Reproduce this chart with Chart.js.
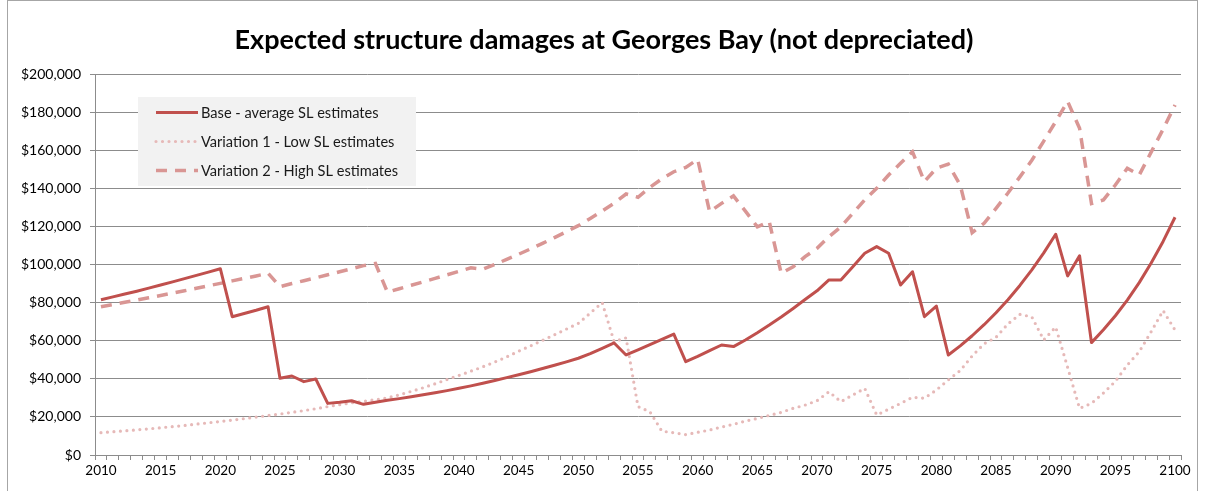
<!DOCTYPE html>
<html>
<head>
<meta charset="utf-8">
<script src="https://cdn.jsdelivr.net/npm/chart.js@4.4.0/dist/chart.umd.min.js"></script>
<style>
  html, body { margin: 0; padding: 0; background: #fff; }
  #wrap { position: relative; width: 1208px; height: 491px; }
</style>
</head>
<body>
<div id="wrap"><canvas id="chart" width="1208" height="491"></canvas></div>
<script>
// categories: one per year
const years = Array.from({ length: 91 }, (_, i) => 2010 + i);

// Base - average SL estimates
const baseValues = [
  81500, 83000, 84500, 86000, 87600, 89200, 90900, 92600, 94300, 96000, // 2010-2019
  97800, 72600, 74300, 76000, 77850, 40250, 41470, 38500, 39900, 27100, // 2020-2029
  27700, 28500, 26600, 27700, 28700, 29600, 30600, 31600, 32700, 33800, // 2030-2039
  35000, 36300, 37700, 39100, 40600, 42100, 43700, 45400, 47100, 48900, // 2040-2049
  50800, 53200, 56000, 58800, 52500, 55200, 57900, 60700, 63500, 49000, // 2050-2059
  51800, 54800, 57750, 56900, 60400, 64200, 68200, 72400, 76900, 81600, // 2060-2069
  86200, 91900, 91900, 98800, 105900, 109400, 105900, 89250, 96200, 72600, // 2070-2079
  78200, 52500, 57300, 62600, 68400, 74700, 81500, 89000, 97200, 106100, // 2080-2089
  115900, 94000, 104600, 59000, 65700, 73100, 81300, 90500, 100800, 112100, // 2090-2099
  124800 // 2100
];

// Variation 1 - Low SL estimates
const lowValues = [
  11700, 12200, 12700, 13200, 13700, 14300, 14900, 15500, 16200, 16900,
  17600, 18300, 19100, 19900, 20700, 21500, 22400, 23300, 24300, 25400,
  26400, 27400, 28200, 29000, 30000, 31600, 33400, 35300, 37400, 39600,
  41800, 44000, 46300, 48800, 51500, 54500, 57300, 60200, 63100, 66100,
  69100, 74500, 80000, 59500, 61500, 25400, 22700, 12500, 11700, 10700,
  11900, 13100, 14700, 16100, 17800, 19200, 20800, 22400, 24500, 26200,
  28500, 33200, 28000, 31500, 35000, 21000, 24000, 27100, 30300, 29800,
  34100, 39400, 44300, 52000, 58400, 61800, 68800, 73800, 72500, 60400,
  67200, 46000, 24500, 27100, 32500, 38700, 47200, 54200, 64700, 75800,
  65600
];

// Variation 2 - High SL estimates
const highValues = [
  77800, 79000, 80200, 81300, 82500, 83700, 85000, 86200, 87500, 88800,
  90100, 91400, 92700, 94000, 95400, 88400, 90000, 91500, 93000, 94600,
  96200, 97800, 99400, 100500, 85500, 87300, 89100, 90900, 92700, 94600,
  96400, 98300, 97500, 100000, 102700, 105400, 108200, 111100, 114100, 117200,
  120400, 124200, 128100, 132200, 137000, 135300, 140500, 145000, 148700, 151000,
  155200, 127700, 132100, 136000, 128000, 119800, 122500, 95400, 98800, 104100,
  108500, 114600, 119800, 126900, 133900, 140000, 147000, 153100, 159200, 143500,
  150500, 152700, 141700, 116700, 121600, 129500, 137500, 146000, 154700, 164800,
  175000, 185600, 171500, 132000, 133900, 141700, 150500, 147000, 159000, 171000,
  183700
];

const seriesNames = ['Base - average SL estimates', 'Variation 1 - Low SL estimates', 'Variation 2 - High SL estimates'];
const yTicks = { min: 0, max: 200000, step: 20000 };
const titleText = 'Expected structure damages at Georges Bay (not depreciated)';

const FONT = 'Lato, "Open Sans", sans-serif';
const gridColor = '#8c8c8c';

// legend drawn inside the plot, top-left, on a grey box
const insideLegend = {
  id: 'insideLegend',
  afterDatasetsDraw(chart) {
    const ctx = chart.ctx;
    ctx.save();
    ctx.fillStyle = '#f2f2f2';
    ctx.fillRect(138, 97, 278, 89);
    chart.data.datasets.forEach((ds, i) => {
      const y = 112.5 + i * 29;
      ctx.beginPath();
      ctx.strokeStyle = ds.borderColor;
      ctx.lineWidth = ds.borderWidth;
      ctx.setLineDash(ds.borderDash || []);
      ctx.lineCap = ds.borderCapStyle || 'butt';
      ctx.moveTo(156, y);
      ctx.lineTo(198, y);
      ctx.stroke();
      ctx.setLineDash([]);
      ctx.fillStyle = '#1a1a1a';
      ctx.font = '14.6px ' + FONT;
      ctx.textBaseline = 'middle';
      ctx.textAlign = 'left';
      ctx.fillText(ds.label, 201, y + 1);
    });
    ctx.restore();
  }
};

// thin grey frame round the chart
const frame = {
  id: 'frame',
  afterDraw(chart) {
    const ctx = chart.ctx;
    ctx.save();
    ctx.strokeStyle = '#a6a6a6';
    ctx.lineWidth = 1;
    ctx.strokeRect(7.5, 0.5, 1190, 500);
    ctx.restore();
  }
};

function draw() {
  new Chart(document.getElementById('chart'), {
    type: 'line',
    data: {
      labels: years,
      datasets: [
        {
          label: seriesNames[0],
          data: baseValues,
          borderColor: '#c0504d',
          borderWidth: 3,
          pointRadius: 0,
          tension: 0,
          borderJoinStyle: 'round'
        },
        {
          label: seriesNames[1],
          data: lowValues,
          borderColor: '#e6b9b8',
          borderWidth: 3.2,
          borderDash: [0, 6.5],
          borderCapStyle: 'round',
          pointRadius: 0,
          tension: 0
        },
        {
          label: seriesNames[2],
          data: highValues,
          borderColor: '#d99694',
          borderWidth: 3.5,
          borderDash: [11, 8],
          borderCapStyle: 'butt',
          pointRadius: 0,
          tension: 0
        }
      ]
    },
    options: {
      responsive: false,
      animation: false,
      layout: { padding: { left: 0, right: 0, top: 0, bottom: 0 } },
      plugins: {
        legend: { display: false },
        tooltip: { enabled: false },
        title: {
          display: true,
          text: titleText,
          color: '#000',
          font: { family: FONT, size: 27, weight: 'bold', lineHeight: 1.2 },
          padding: { top: 24, bottom: 17.6 }
        }
      },
      scales: {
        x: {
          type: 'category',
          offset: true,
          grid: { offset: true, drawOnChartArea: false, drawTicks: true, tickLength: 5, color: gridColor },
          border: { color: gridColor },
          ticks: {
            autoSkip: false,
            maxRotation: 0,
            color: '#000',
            font: { family: FONT, size: 13.5 },
            padding: 3,
            callback: (v, i) => (years[i] % 5 === 0 ? String(years[i]) : '')
          },
          afterFit: s => { s.height = 36; }
        },
        y: {
          min: yTicks.min,
          max: yTicks.max,
          grid: { color: gridColor, tickLength: 5 },
          border: { color: gridColor },
          ticks: {
            stepSize: yTicks.step,
            color: '#000',
            font: { family: FONT, size: 14 },
            padding: 9,
            callback: v => '$' + Number(v).toLocaleString('en-US')
          },
          afterFit: s => { s.width = 95; }
        },
        // empty right-hand axis: only reserves the margin on the right
        yRight: {
          position: 'right',
          display: true,
          grid: { display: false },
          border: { display: false },
          ticks: { display: false },
          afterFit: s => { s.width = 27; }
        }
      }
    },
    plugins: [insideLegend, frame]
  });
}

if (document.fonts && document.fonts.load) {
  Promise.all([document.fonts.load('bold 27px Lato'), document.fonts.load('14px Lato')]).then(draw, draw);
} else {
  draw();
}
</script>
</body>
</html>
